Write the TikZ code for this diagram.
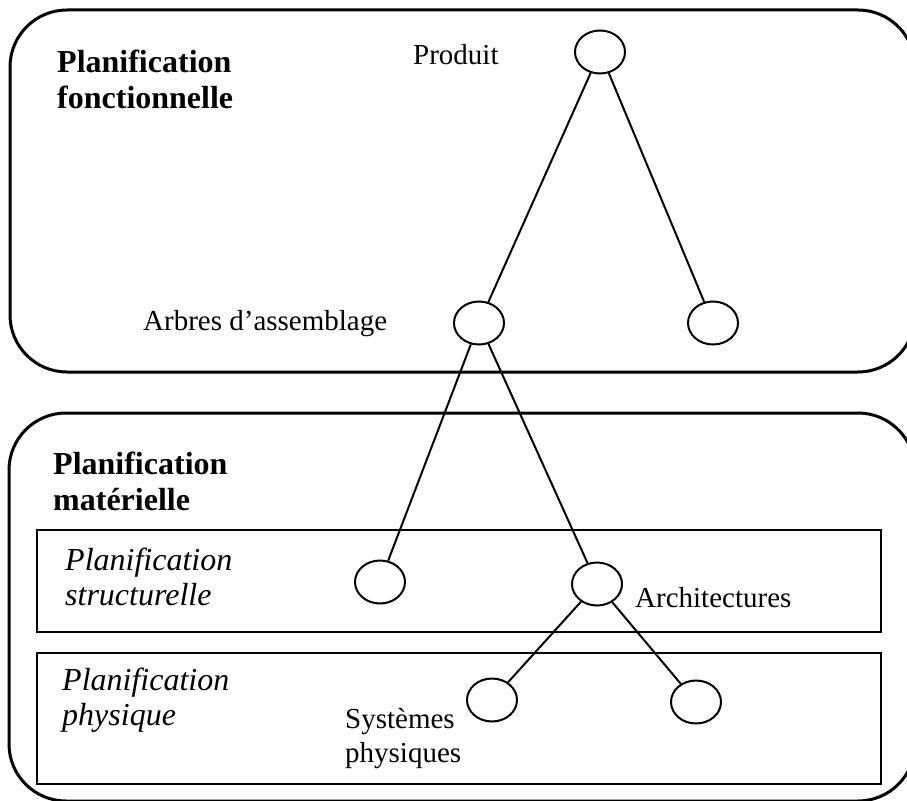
\documentclass[tikz,border=0pt]{standalone}
\usepackage{fontspec}
\setmainfont{Liberation Serif}
\usetikzlibrary{shapes.geometric}
\begin{document}
\begin{tikzpicture}[x=1pt,y=-1pt,
  zone/.style={line width=3pt,rounded corners=57pt},
  level/.style={line width=2.4pt},
  item/.style={ellipse,draw,line width=2pt,minimum width=50pt,minimum height=43pt,inner sep=0pt},
  link/.style={line width=2pt},
  head/.style={anchor=base west,inner sep=0pt,align=left,font=\fontsize{32}{36}\selectfont\bfseries},
  sub/.style={anchor=base west,inner sep=0pt,align=left,font=\fontsize{32}{35}\selectfont\itshape},
  lbl/.style={anchor=base west,inner sep=0pt,align=left,font=\fontsize{29}{34}\selectfont}]
\useasboundingbox (0,0) rectangle (907,800);
\clip (0,0) rectangle (907,800);
% outer zones
\draw[zone] (10,10) rectangle (915,372);
\draw[zone] (9,413) rectangle (915,801);
% inner levels
\draw[level] (37,530) rectangle (881,632);
\draw[level] (37,653) rectangle (881,784);
% headings (placed by the baseline of their last line)
\node[head] (hf) at (57,108) {Planification\\fonctionnelle};
\node[head] (hm) at (53,510) {Planification\\matérielle};
\node[sub] (hs) at (65,605) {Planification\\structurelle};
\node[sub] (hp) at (62,725) {Planification\\physique};
% tree nodes
\node[item] (prod) at (600,52) {};
\node[item] (arb) at (479,323) {};
\node[item] (r1) at (713,323) {};
\node[item] (lowl) at (380,582) {};
\node[item] (arch) at (597,584) {};
\node[item] (sys) at (492,700) {};
\node[item] (rb) at (696,702) {};
% labels
\node[lbl] (lprod) at (413,65) {Produit};
\node[lbl] (larb) at (143,330) {Arbres d’assemblage};
\node[lbl] (larch) at (635,607) {Architectures};
\node[lbl] (lsys) at (345,762) {Systèmes\\physiques};
% connectors
\draw[link] (prod) -- (arb);
\draw[link] (prod) -- (r1);
\draw[link] (arb) -- (lowl);
\draw[link] (arb) -- (arch);
\draw[link] (arch) -- (sys);
\draw[link] (arch) -- (rb);
\end{tikzpicture}
\end{document}
